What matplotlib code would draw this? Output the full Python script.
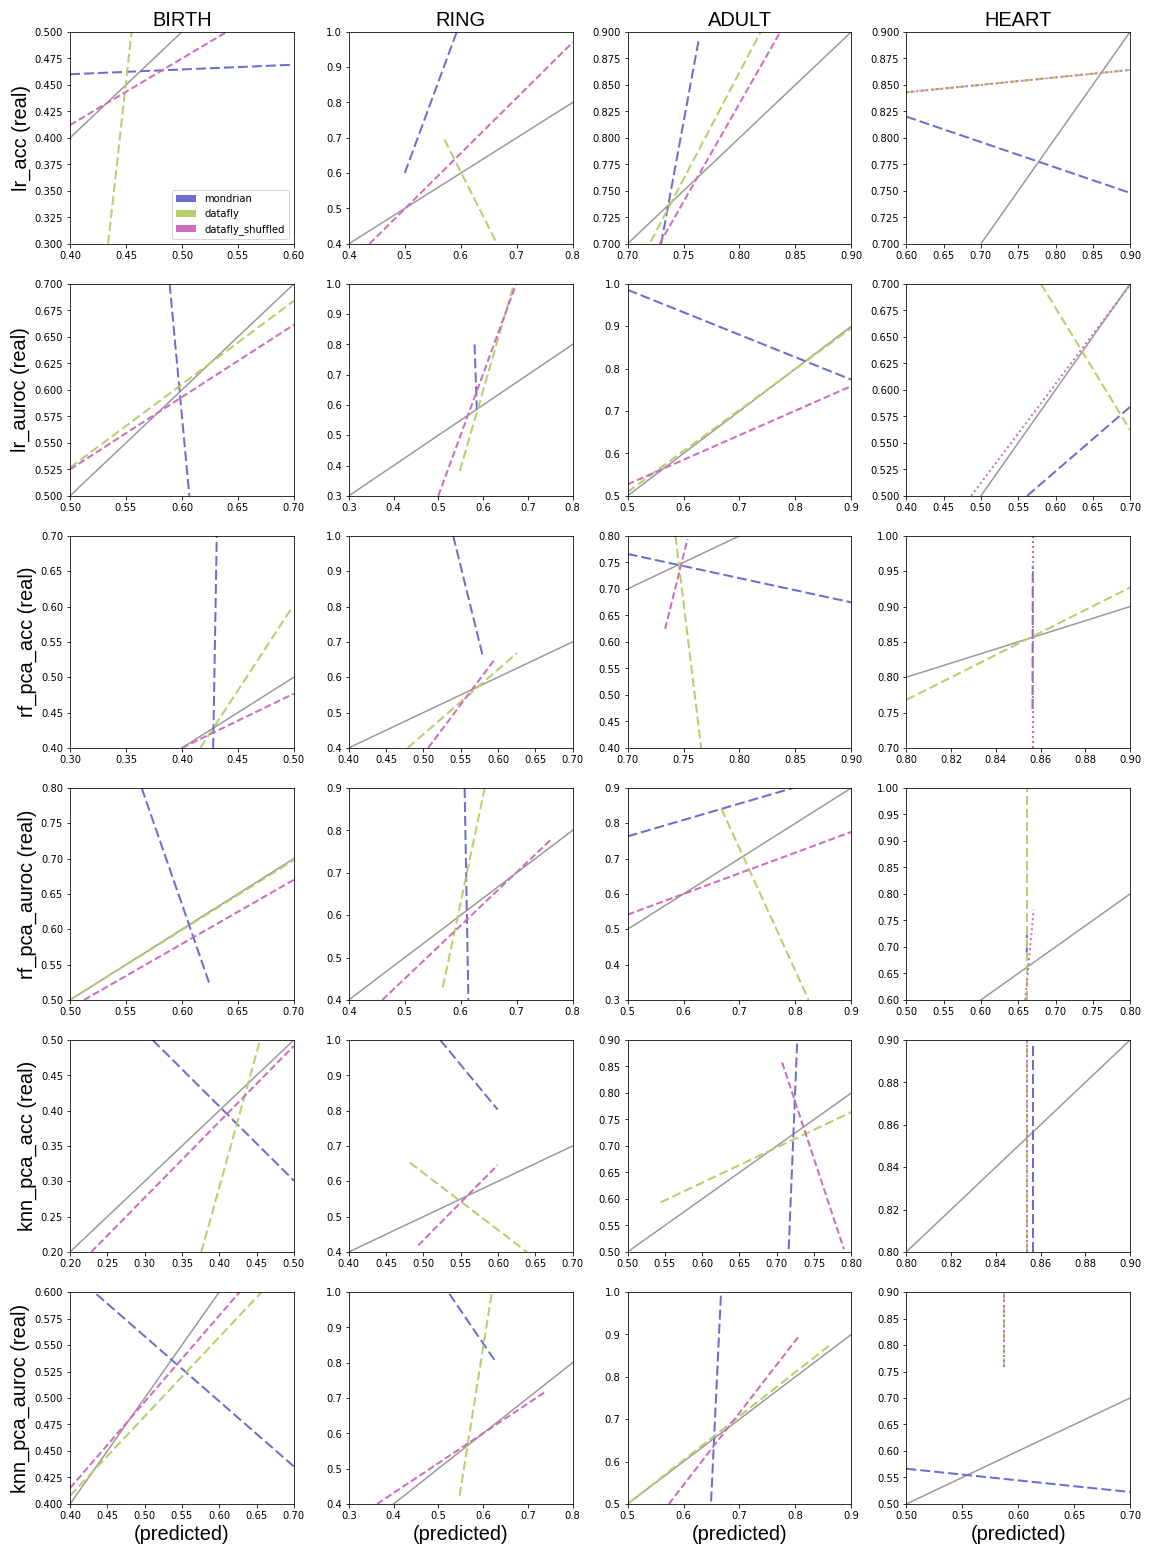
import matplotlib
matplotlib.use("Agg")
import matplotlib.pyplot as plt
from matplotlib.patches import Patch
from matplotlib.ticker import MultipleLocator

datasets = ["BIRTH", "RING", "ADULT", "HEART"]
metrics = ["lr_acc", "lr_auroc", "rf_pca_acc", "rf_pca_auroc", "knn_pca_acc", "knn_pca_auroc"]
methods = ["mondrian", "datafly", "datafly_shuffled"]

# fitted line segments (x0, y0, x1, y1) per metric row, dataset column
mondrian_lines = [
    [(0.40, 0.460, 0.60, 0.469), (0.50, 0.60, 0.593, 1.00), (0.730, 0.70, 0.7635, 0.892), (0.60, 0.820, 0.90, 0.748)],
    [(0.589, 0.70, 0.6066, 0.50), (0.581, 0.80, 0.586, 0.585), (0.50, 0.986, 0.90, 0.774), (0.562, 0.50, 0.70, 0.584)],
    [(0.4279, 0.40, 0.4311, 0.70), (0.5400, 1.0, 0.5800, 0.656), (0.70, 0.766, 0.90, 0.6746), (0.8564, 0.755, 0.8565, 0.958)],
    [(0.564, 0.80, 0.6252, 0.520), (0.607, 0.90, 0.6137, 0.40), (0.50, 0.763, 0.796, 0.90), (0.6615, 0.69, 0.6617, 0.73)],
    [(0.3107, 0.50, 0.50, 0.301), (0.5225, 1.0, 0.5995, 0.803), (0.716, 0.505, 0.7275, 0.90), (0.8566, 0.80, 0.8566, 0.898)],
    [(0.4354, 0.598, 0.70, 0.4354), (0.5246, 0.995, 0.6295, 0.80), (0.6493, 0.506, 0.6671, 1.0), (0.50, 0.5665, 0.70, 0.5226)],
]
datafly_lines = [
    [(0.434, 0.30, 0.455, 0.50), (0.571, 0.695, 0.665, 0.40), (0.7207, 0.702, 0.819, 0.90), (0.60, 0.843, 0.90, 0.864)],
    [(0.50, 0.5266, 0.70, 0.684), (0.548, 0.382, 0.669, 1.0), (0.50, 0.509, 0.90, 0.896), (0.5805, 0.70, 0.70, 0.562)],
    [(0.4164, 0.40, 0.499, 0.60), (0.479, 0.40, 0.6255, 0.6685), (0.7428, 0.80, 0.7658, 0.40), (0.80, 0.768, 0.90, 0.927)],
    [(0.50, 0.50, 0.70, 0.698), (0.568, 0.4296, 0.643, 0.90), (0.6678, 0.841, 0.8237, 0.30), (0.6618, 0.60, 0.6618, 1.00)],
    [(0.376, 0.20, 0.4548, 0.50), (0.482, 0.6526, 0.6387, 0.40), (0.5444, 0.5936, 0.80, 0.764), (0.8538, 0.80, 0.8538, 0.90)],
    [(0.40, 0.4078, 0.6568, 0.60), (0.5475, 0.4233, 0.6197, 1.0), (0.50, 0.50, 0.8638, 0.877), (0.5869, 0.759, 0.5869, 0.90)],
]
shuffled_lines = [
    [(0.40, 0.412, 0.540, 0.50), (0.437, 0.40, 0.80, 0.970), (0.7286, 0.70, 0.8365, 0.90), (0.60, 0.843, 0.90, 0.864)],
    [(0.50, 0.525, 0.70, 0.6614), (0.50, 0.30, 0.674, 1.0), (0.50, 0.527, 0.90, 0.759), (0.487, 0.50, 0.70, 0.699)],
    [(0.40, 0.40, 0.50, 0.4768), (0.5064, 0.40, 0.597, 0.6545), (0.7336, 0.6246, 0.7536, 0.7944), (0.8564, 0.70, 0.8564, 1.00)],
    [(0.5125, 0.50, 0.70, 0.670), (0.460, 0.40, 0.762, 0.779), (0.50, 0.5414, 0.90, 0.7755), (0.6594, 0.60, 0.6707, 0.770)],
    [(0.2285, 0.20, 0.50, 0.4916), (0.4931, 0.4185, 0.5995, 0.646), (0.7072, 0.8576, 0.7901, 0.505), (0.8538, 0.80, 0.8538, 0.90)],
    [(0.40, 0.415, 0.6273, 0.60), (0.3631, 0.40, 0.7418, 0.7197), (0.5737, 0.50, 0.8066, 0.8966), (0.5869, 0.759, 0.5869, 0.90)],
]

x_limits = [
    [(0.40, 0.60), (0.4, 0.8), (0.70, 0.90), (0.60, 0.90)],
    [(0.50, 0.70), (0.3, 0.8), (0.5, 0.9), (0.40, 0.70)],
    [(0.30, 0.50), (0.40, 0.70), (0.70, 0.90), (0.80, 0.90)],
    [(0.50, 0.70), (0.4, 0.8), (0.5, 0.9), (0.50, 0.80)],
    [(0.20, 0.50), (0.40, 0.70), (0.50, 0.80), (0.80, 0.90)],
    [(0.40, 0.70), (0.3, 0.8), (0.5, 0.9), (0.50, 0.70)],
]
y_limits = [
    [(0.30, 0.50), (0.4, 1.0), (0.70, 0.90), (0.70, 0.90)],
    [(0.50, 0.70), (0.3, 1.0), (0.5, 1.0), (0.50, 0.70)],
    [(0.40, 0.70), (0.4, 1.0), (0.40, 0.80), (0.70, 1.00)],
    [(0.50, 0.80), (0.4, 0.9), (0.3, 0.9), (0.60, 1.00)],
    [(0.20, 0.50), (0.4, 1.0), (0.50, 0.90), (0.80, 0.90)],
    [(0.40, 0.60), (0.4, 1.0), (0.5, 1.0), (0.50, 0.90)],
]
x_tick_steps = [
    [0.05, 0.1, 0.05, 0.05],
    [0.05, 0.1, 0.1, 0.05],
    [0.05, 0.05, 0.05, 0.02],
    [0.05, 0.1, 0.1, 0.05],
    [0.05, 0.05, 0.05, 0.02],
    [0.05, 0.1, 0.1, 0.05],
]
y_tick_steps = [
    [0.025, 0.1, 0.025, 0.025],
    [0.025, 0.1, 0.1, 0.025],
    [0.05, 0.1, 0.05, 0.05],
    [0.05, 0.1, 0.1, 0.05],
    [0.05, 0.1, 0.05, 0.02],
    [0.025, 0.1, 0.1, 0.05],
]

colors = {"mondrian": "#6b6ecf", "datafly": "#b5cf6b", "datafly_shuffled": "#ce6dbd"}
dash_styles = {"mondrian": (0, (5, 2)), "datafly": (0, (4.5, 2)), "datafly_shuffled": (0, (3.5, 1.6))}
line_sets = {"mondrian": mondrian_lines, "datafly": datafly_lines, "datafly_shuffled": shuffled_lines}

label_font = ["Liberation Sans", "DejaVu Sans"]

fig, axes = plt.subplots(6, 4, figsize=(16, 21.6), dpi=72)
fig.subplots_adjust(left=0.0608, right=0.981, top=0.9794, bottom=0.0328,
                    wspace=0.2455, hspace=0.189)

for r, metric in enumerate(metrics):
    for c, ds in enumerate(datasets):
        ax = axes[r, c]
        ax.plot([0, 1], [0, 1], color="#999999", lw=1.5, zorder=1)
        for m in methods:
            x0, y0, x1, y1 = line_sets[m][r][c]
            ls = dash_styles[m]
            if m == "datafly_shuffled" and ds == "HEART":
                ls = (0, (1, 1.5))
            ax.plot([x0, x1], [y0, y1], color=colors[m], lw=2, linestyle=ls, zorder=2)
        ax.set_xlim(*x_limits[r][c])
        ax.set_ylim(*y_limits[r][c])
        ax.xaxis.set_major_locator(MultipleLocator(x_tick_steps[r][c]))
        ax.yaxis.set_major_locator(MultipleLocator(y_tick_steps[r][c]))
        ax.tick_params(labelsize=10)
        if r == 0:
            ax.set_title(ds, fontsize=20, family=label_font)
        if c == 0:
            ax.set_ylabel(f"{metric} (real)", fontsize=20, family=label_font)
        if r == len(metrics) - 1:
            ax.set_xlabel("(predicted)", fontsize=20, family=label_font)

handles = [Patch(facecolor=colors[m], label=m) for m in methods]
axes[0, 0].legend(handles=handles, loc="lower right", fontsize=10)

fig.savefig("out.png", dpi=72)
